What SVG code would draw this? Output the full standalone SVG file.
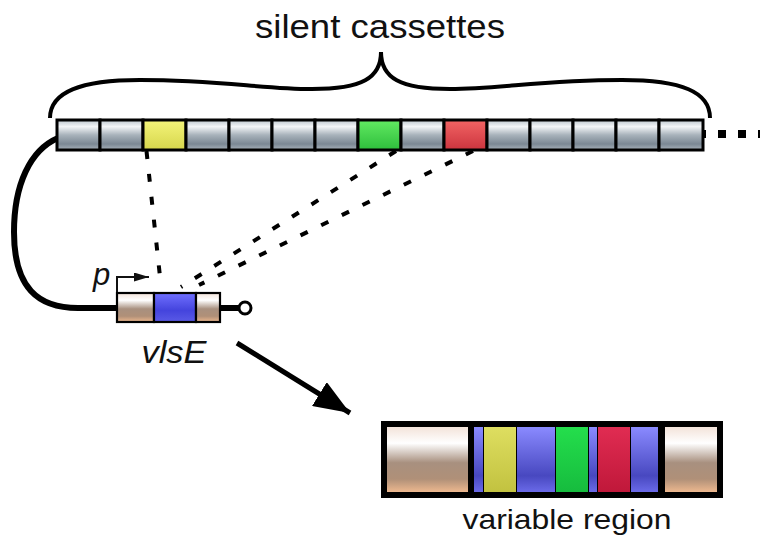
<svg xmlns="http://www.w3.org/2000/svg" width="760" height="540" viewBox="0 0 760 540">
  <style>
    .lbl { font-family: "Liberation Sans", Arial, sans-serif; fill: #111; }
    .cell { stroke: #000; stroke-width: 3; }
    .seg { stroke: #000; stroke-width: 2.2; }
    .dash { fill: none; stroke: #000; stroke-width: 4; stroke-dasharray: 8 15; }
  </style>
  <defs>
    <linearGradient id="gGrey" x1="0" y1="0" x2="0" y2="1">
      <stop offset="0" stop-color="#bcc5cc"/>
      <stop offset="0.22" stop-color="#f3f5f7"/>
      <stop offset="0.5" stop-color="#a8b2bb"/>
      <stop offset="0.8" stop-color="#7b8894"/>
      <stop offset="1" stop-color="#a9b3bc"/>
    </linearGradient>
    <linearGradient id="gYellow" x1="0" y1="0" x2="0" y2="1">
      <stop offset="0" stop-color="#f4f47a"/>
      <stop offset="1" stop-color="#d6d64c"/>
    </linearGradient>
    <linearGradient id="gGreen" x1="0" y1="0" x2="0" y2="1">
      <stop offset="0" stop-color="#62ea62"/>
      <stop offset="1" stop-color="#2ebe3c"/>
    </linearGradient>
    <linearGradient id="gRed" x1="0" y1="0" x2="0" y2="1">
      <stop offset="0" stop-color="#f26464"/>
      <stop offset="1" stop-color="#cc343e"/>
    </linearGradient>
    <linearGradient id="gTan" x1="0" y1="0" x2="0" y2="1">
      <stop offset="0" stop-color="#f3e3da"/>
      <stop offset="0.25" stop-color="#ffffff"/>
      <stop offset="0.55" stop-color="#a8907f"/>
      <stop offset="0.8" stop-color="#b09078"/>
      <stop offset="1" stop-color="#edb88f"/>
    </linearGradient>
    <linearGradient id="gBlue" x1="0" y1="0" x2="0" y2="1">
      <stop offset="0" stop-color="#7070ff"/>
      <stop offset="0.6" stop-color="#4444dd"/>
      <stop offset="1" stop-color="#5a5ae6"/>
    </linearGradient>
    <linearGradient id="gVBlue" x1="0" y1="0" x2="0" y2="1">
      <stop offset="0" stop-color="#8a8aff"/>
      <stop offset="0.75" stop-color="#4848c0"/>
      <stop offset="1" stop-color="#6a6ae8"/>
    </linearGradient>
    <linearGradient id="gVYellow" x1="0" y1="0" x2="0" y2="1">
      <stop offset="0" stop-color="#dede60"/>
      <stop offset="1" stop-color="#c2c240"/>
    </linearGradient>
    <linearGradient id="gVGreen" x1="0" y1="0" x2="0" y2="1">
      <stop offset="0" stop-color="#24de4c"/>
      <stop offset="1" stop-color="#16bc3e"/>
    </linearGradient>
    <linearGradient id="gVRed" x1="0" y1="0" x2="0" y2="1">
      <stop offset="0" stop-color="#e02c52"/>
      <stop offset="1" stop-color="#c0183a"/>
    </linearGradient>
    <marker id="headSmall" viewBox="0 0 10 10" refX="10" refY="5" markerWidth="15" markerHeight="9" markerUnits="userSpaceOnUse" orient="auto" preserveAspectRatio="none">
      <path d="M0,0 L10,5 L0,10 Z" fill="#111"/>
    </marker>
    <marker id="headBig" viewBox="0 0 10 10" refX="10" refY="5" markerWidth="36" markerHeight="28" markerUnits="userSpaceOnUse" orient="auto" preserveAspectRatio="none">
      <path d="M0,0 L10,5 L0,10 Z" fill="#000"/>
    </marker>
  </defs>

  <rect width="760" height="540" fill="#fff"/>

  <!-- connectors -->
  <g id="connectors">
    <!-- chromosome backbone running from the array down to the expression site -->
    <path d="M58 138 C30 150 14 185 14 232 C14 288 38 308 78 308 L118 308" fill="none" stroke="#000" stroke-width="6"/>
    <!-- continuation of the array -->
    <line x1="698" y1="134" x2="760" y2="134" stroke="#000" stroke-width="8" stroke-dasharray="8 12"/>
    <!-- recombination donors -->
    <line class="dash" x1="146.5" y1="151" x2="161" y2="286"/>
    <line class="dash" x1="396" y1="151" x2="181" y2="287"/>
    <line class="dash" x1="473" y1="151" x2="199" y2="285"/>
    <!-- expression site to variable region -->
    <line x1="237" y1="343" x2="350" y2="413" stroke="#000" stroke-width="5" marker-end="url(#headBig)"/>
  </g>

  <!-- brace over the silent cassettes -->
  <g id="brace">
    <path d="M50 118 C50 92 80 80 140 80 C220 80 262 89 312 89 C362 89 381 78 381 52 C381 78 400 89 450 89 C500 89 542 80 622 80 C682 80 710 92 710 118" fill="none" stroke="#000" stroke-width="4"/>
    <text class="lbl" x="380" y="38" font-size="33" text-anchor="middle" textLength="250" lengthAdjust="spacingAndGlyphs">silent cassettes</text>
  </g>

  <!-- silent cassette array -->
  <g id="cassettes">
    <rect class="cell" x="57" y="120" width="43" height="30" fill="url(#gGrey)"/>
    <rect class="cell" x="100" y="120" width="43" height="30" fill="url(#gGrey)"/>
    <rect class="cell" x="143" y="120" width="43" height="30" fill="url(#gYellow)"/>
    <rect class="cell" x="186" y="120" width="43" height="30" fill="url(#gGrey)"/>
    <rect class="cell" x="229" y="120" width="43" height="30" fill="url(#gGrey)"/>
    <rect class="cell" x="272" y="120" width="43" height="30" fill="url(#gGrey)"/>
    <rect class="cell" x="315" y="120" width="43" height="30" fill="url(#gGrey)"/>
    <rect class="cell" x="358" y="120" width="43" height="30" fill="url(#gGreen)"/>
    <rect class="cell" x="401" y="120" width="43" height="30" fill="url(#gGrey)"/>
    <rect class="cell" x="444" y="120" width="43" height="30" fill="url(#gRed)"/>
    <rect class="cell" x="487" y="120" width="43" height="30" fill="url(#gGrey)"/>
    <rect class="cell" x="530" y="120" width="43" height="30" fill="url(#gGrey)"/>
    <rect class="cell" x="573" y="120" width="43" height="30" fill="url(#gGrey)"/>
    <rect class="cell" x="616" y="120" width="43" height="30" fill="url(#gGrey)"/>
    <rect class="cell" x="659" y="120" width="44" height="30" fill="url(#gGrey)"/>
  </g>

  <!-- vlsE expression site -->
  <g id="vlsE">
    <line x1="220" y1="308" x2="240" y2="308" stroke="#000" stroke-width="6"/>
    <circle cx="245" cy="308" r="6" fill="#fff" stroke="#000" stroke-width="3"/>
    <rect class="seg" x="117" y="293" width="37" height="29" fill="url(#gTan)"/>
    <rect class="seg" x="154" y="293" width="42" height="29" fill="url(#gBlue)"/>
    <rect class="seg" x="196" y="293" width="24" height="29" fill="url(#gTan)"/>
    <!-- promoter -->
    <polyline points="117,292 117,277 149,277" fill="none" stroke="#111" stroke-width="2" marker-end="url(#headSmall)"/>
    <text class="lbl" x="93" y="285" font-size="31" font-style="italic">p</text>
    <text class="lbl" x="174" y="363" font-size="32" font-style="italic" text-anchor="middle" textLength="65" lengthAdjust="spacingAndGlyphs">vlsE</text>
  </g>

  <!-- recombined variable region -->
  <g id="variable-region">
    <rect x="381" y="421" width="342" height="77" fill="#000"/>
    <rect x="387" y="427" width="81" height="65" fill="url(#gTan)"/>
    <rect x="474" y="427" width="9" height="65" fill="url(#gVBlue)"/>
    <rect x="484" y="427" width="32" height="65" fill="url(#gVYellow)"/>
    <rect x="517" y="427" width="38" height="65" fill="url(#gVBlue)"/>
    <rect x="556" y="427" width="32" height="65" fill="url(#gVGreen)"/>
    <rect x="589" y="427" width="8" height="65" fill="url(#gVBlue)"/>
    <rect x="598" y="427" width="32" height="65" fill="url(#gVRed)"/>
    <rect x="631" y="427" width="27" height="65" fill="url(#gVBlue)"/>
    <rect x="665" y="427" width="52" height="65" fill="url(#gTan)"/>
    <text class="lbl" x="567" y="529" font-size="28" text-anchor="middle" textLength="209" lengthAdjust="spacingAndGlyphs">variable region</text>
  </g>
</svg>
